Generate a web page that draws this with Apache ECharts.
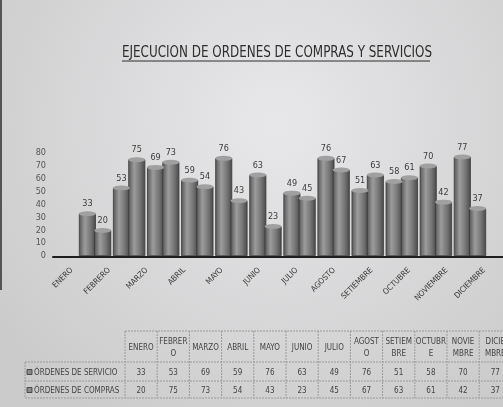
<!DOCTYPE html>
<html>
<head>
<meta charset="utf-8">
<script src="https://cdn.jsdelivr.net/npm/echarts@6/dist/echarts.min.js"></script>
<style>
  html, body { margin: 0; padding: 0; }
  #chart { width: 503px; height: 407px; }
</style>
</head>
<body>
<div id="chart"></div>
<script>
// Monthly order counts
const categories = ['ENERO', 'FEBRERO', 'MARZO', 'ABRIL', 'MAYO', 'JUNIO', 'JULIO', 'AGOSTO', 'SETIEMBRE', 'OCTUBRE', 'NOVIEMBRE', 'DICIEMBRE'];
const tableHeaders = ['ENERO', 'FEBRER\nO', 'MARZO', 'ABRIL', 'MAYO', 'JUNIO', 'JULIO', 'AGOST\nO', 'SETIEM\nBRE', 'OCTUBR\nE', 'NOVIE\nMBRE', 'DICIE\nMBRE'];
const seriesNames = ['ÓRDENES DE SERVICIO', 'ÓRDENES DE COMPRAS'];
const servicio = [33, 53, 69, 59, 76, 63, 49, 76, 51, 58, 70, 77];
const compras = [20, 75, 73, 54, 43, 23, 45, 67, 63, 61, 42, 37];
const titleText = 'EJECUCION DE ORDENES DE COMPRAS Y SERVICIOS';

const FONT = "'Liberation Sans Narrow', 'DejaVu Sans Condensed', 'Liberation Sans', sans-serif";
const chart = echarts.init(document.getElementById('chart'));

const cylinder = new echarts.graphic.LinearGradient(0, 0, 1, 0, [
  { offset: 0, color: '#555555' },
  { offset: 0.35, color: '#9c9c9c' },
  { offset: 0.7, color: '#757575' },
  { offset: 1, color: '#474747' }
]);

const BAR_W = 17;
const BAR_GAP = '-10%';

function barSeries(name, data) {
  return {
    name, type: 'bar', data,
    xAxisIndex: 0, yAxisIndex: 0,
    barWidth: BAR_W, barGap: BAR_GAP,
    itemStyle: { color: cylinder, borderColor: '#3a3a3a', borderWidth: 0.8 },
    label: { show: true, position: 'top', distance: 5, fontSize: 9, color: '#3c3c3c', fontFamily: FONT }
  };
}
function capSeries(data) {
  return {
    type: 'pictorialBar', data,
    xAxisIndex: 0, yAxisIndex: 0,
    barWidth: BAR_W, barGap: BAR_GAP,
    symbol: 'circle', symbolSize: [BAR_W, 5], symbolPosition: 'end', symbolOffset: [0, '-50%'],
    itemStyle: { color: '#a0a0a0', borderColor: '#3a3a3a', borderWidth: 0.8 },
    z: 3, silent: true
  };
}

// Data table below the plot, built from the same arrays
const COL0 = 125, COLW = 32.2;
const Y_TOP = 331, Y_HEAD = 362, Y_MID = 381, Y_BOT = 398;
const tableGraphics = [];
const lineStyle = { stroke: '#9a9a9a', lineWidth: 1, lineDash: [2, 1] };
for (let i = 0; i <= categories.length; i++) {
  const x = COL0 + i * COLW;
  tableGraphics.push({ type: 'line', shape: { x1: x, y1: Y_TOP, x2: x, y2: Y_BOT }, style: lineStyle, silent: true });
}
tableGraphics.push({ type: 'line', shape: { x1: 25, y1: Y_HEAD, x2: 25, y2: Y_BOT }, style: lineStyle, silent: true });
tableGraphics.push({ type: 'line', shape: { x1: COL0, y1: Y_TOP, x2: 503, y2: Y_TOP }, style: lineStyle, silent: true });
[Y_HEAD, Y_MID, Y_BOT].forEach(y => {
  tableGraphics.push({ type: 'line', shape: { x1: 25, y1: y, x2: 503, y2: y }, style: lineStyle, silent: true });
});
tableHeaders.forEach((h, i) => {
  tableGraphics.push({
    type: 'text', x: COL0 + (i + 0.5) * COLW, y: (Y_TOP + Y_HEAD) / 2 + 1,
    style: { text: h, font: '8px ' + FONT, fill: '#444', align: 'center', verticalAlign: 'middle', lineHeight: 12 }
  });
});
[servicio, compras].forEach((row, r) => {
  const yc = r === 0 ? (Y_HEAD + Y_MID) / 2 + 1 : (Y_MID + Y_BOT) / 2 + 1;
  tableGraphics.push({ type: 'rect', shape: { x: 27, y: yc - 3, width: 5, height: 5 }, style: { fill: '#8a8a8a', stroke: '#333', lineWidth: 0.8 } });
  tableGraphics.push({
    type: 'text', x: 34, y: yc,
    style: { text: seriesNames[r], font: '8px ' + FONT, fill: '#444', align: 'left', verticalAlign: 'middle' }
  });
  row.forEach((v, i) => {
    tableGraphics.push({
      type: 'text', x: COL0 + (i + 0.5) * COLW, y: yc,
      style: { text: String(v), font: '8px ' + FONT, fill: '#444', align: 'center', verticalAlign: 'middle' }
    });
  });
});

// Condensed, underlined heading
const headingGraphics = [
  {
    type: 'text', x: 122, y: 53, scaleX: 0.83, originX: 0, originY: 0,
    style: { text: titleText, font: '16px ' + FONT, fill: '#2e2e2e', align: 'left', verticalAlign: 'middle' }
  },
  { type: 'line', shape: { x1: 122, y1: 61, x2: 430, y2: 61 }, style: { stroke: '#2e2e2e', lineWidth: 1 }, silent: true }
];

chart.setOption({
  animation: false,
  backgroundColor: new echarts.graphic.RadialGradient(0.55, 0.3, 0.85, [
    { offset: 0, color: '#e8e8ea' },
    { offset: 1, color: '#cbcbcc' }
  ]),
  grid: [
    { left: 78, width: 409, top: 153, height: 103 },
    { left: 53, width: 456, top: 153, height: 104 }
  ],
  xAxis: [
    { type: 'category', data: categories, gridIndex: 0, axisLine: { show: false }, axisTick: { show: false }, axisLabel: { show: false } },
    {
      type: 'category', data: categories, gridIndex: 1,
      axisLine: { show: true, lineStyle: { color: '#1e1e1e', width: 2 } },
      axisTick: { show: false },
      axisLabel: { rotate: 45, margin: 12, fontSize: 8, color: '#3c3c3c', fontFamily: FONT, interval: 0 }
    }
  ],
  yAxis: [
    {
      type: 'value', gridIndex: 0, min: 0, max: 80, interval: 10,
      axisLine: { show: false }, axisTick: { show: false }, splitLine: { show: false },
      axisLabel: { margin: 32, fontSize: 9, color: '#555', fontFamily: FONT }
    },
    { type: 'value', gridIndex: 1, min: 0, max: 80, show: false }
  ],
  series: [
    barSeries(seriesNames[0], servicio),
    barSeries(seriesNames[1], compras),
    capSeries(servicio),
    capSeries(compras)
  ],
  graphic: headingGraphics.concat([
    { type: 'rect', shape: { x: 0, y: 0, width: 2, height: 290 }, style: { fill: '#555' }, silent: true }
  ]).concat(tableGraphics)
});
</script>
</body>
</html>
